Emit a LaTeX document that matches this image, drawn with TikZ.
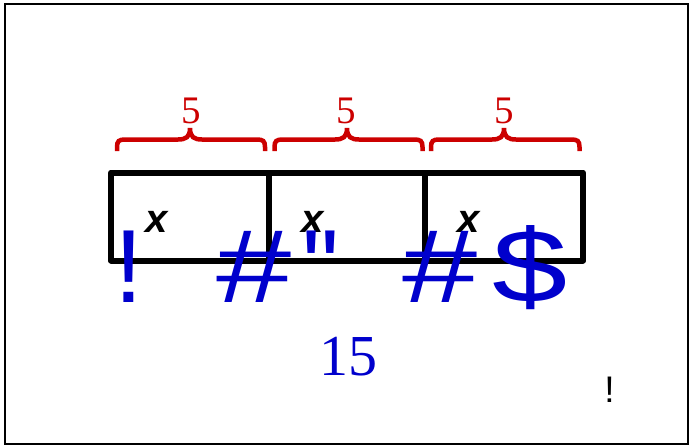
\documentclass[tikz,border=0pt]{standalone}
\usepackage{fontspec}
\setmainfont{Liberation Serif}
\newfontfamily\lsans{Liberation Sans}
\definecolor{bred}{RGB}{204,0,0}
\definecolor{bblue}{RGB}{0,0,204}
\newcommand\redbrace[3]{%
\draw[bracestyle] (#1,151) -- (#1,147) .. controls (#1,141) and ({#1+2},139.5) .. ({#1+8},139.5) -- ({#2-12},139.5) .. controls ({#2-4},139.5) and (#2,137) .. (#2,128) .. controls (#2,137) and ({#2+4},139.5) .. ({#2+12},139.5) -- ({#3-8},139.5) .. controls ({#3-2},139.5) and (#3,141) .. (#3,147) -- (#3,151);}
\newcommand\widesym[1]{\scalebox{1.3}[1]{#1}}
\tikzset{
  bracestyle/.style={draw=bred, line width=4.5pt, line cap=butt},
  cellbox/.style={line width=6pt, line join=round},
  fivelabel/.style={text=bred, anchor=base, inner sep=0pt, font=\fontsize{39}{39}\selectfont},
  xlabel/.style={anchor=base, inner sep=0pt, font=\lsans\bfseries\itshape\fontsize{40}{40}\selectfont},
  bigsym/.style={text=bblue, anchor=base, inner sep=0pt, font=\lsans\fontsize{104}{104}\selectfont},
}
\begin{document}
\begin{tikzpicture}[x=1pt,y=-1pt]
\useasboundingbox (0,0) rectangle (689,445);
\draw[line width=2pt] (5,3.5) rectangle (687.5,443.5);
% braces
\redbrace{117}{190}{265}
\redbrace{274.5}{347}{422.5}
\redbrace{431}{504}{579.5}
\node[fivelabel] (f1) at (191,123) {5};
\node[fivelabel] (f2) at (346.5,123) {5};
\node[fivelabel] (f3) at (504,123) {5};
% cells
\draw[cellbox] (111,172.5) rectangle (583,260.5);
\draw[cellbox] (269,172.5) -- (269,260.5);
\draw[cellbox] (425,172.5) -- (425,260.5);
\node[xlabel] (x1) at (157,232) {x};
\node[xlabel] (x2) at (313,232) {x};
\node[xlabel] (x3) at (469,232) {x};
% blue symbols
\node[bigsym] (s1) at (129,302) {!};
\node[bigsym] (s2) at (254.5,302) {\widesym{\#}};
\node[bigsym] (s3) at (320.5,302) {"};
\node[bigsym] (s4) at (440.5,302) {\widesym{\#}};
\node[bigsym] (s5) at (530,302) {\widesym{\$}};
\node[text=bblue, anchor=base, inner sep=0pt, font=\fontsize{58}{58}\selectfont] (n15) at (348,375) {15};
\node[anchor=base, inner sep=0pt, font=\lsans\fontsize{37}{37}\selectfont] (ex) at (609.5,402) {!};
\end{tikzpicture}
\end{document}
